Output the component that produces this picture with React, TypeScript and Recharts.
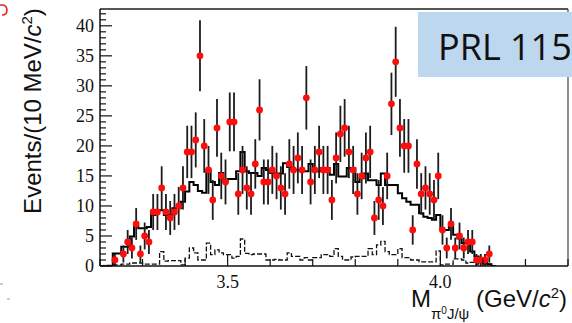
import { ComposedChart, Line, Scatter, ErrorBar, XAxis, YAxis, ReferenceLine } from "recharts";

// 10 MeV bins starting at 3.20 GeV
const binStart = 3.2;
const binWidth = 0.01;

// observed events per bin (null = empty bin, not drawn)
const counts: (number | null)[] = [
  null, null, null, 1, null, 2, 4, 3, 7, 2,
  5, 4, 9, 9, 13, 9, 8, 9, 10, 13,
  19, 19, 21, 35, 20, 16, 11, 23, 15, 14,
  24, 24, 12, 16, 13, 12, 17, 26, 14, 14,
  16, 15, 13, 12, 17, 16, 18, 16, 28, 14,
  16, 19, 16, 16, 11, 18, 22, 23, 19, 16,
  12, 15, 18, 19, 8, 11, 10, 15, 27, 34,
  23, 20, 20, 6, 17, 12, 13, 12, 11, 15,
  6, 3, 7, 3, 5, 3, 4, 4, 1, 1,
  1, 2, null,
];

// total fit (solid histogram)
const fitTotal: number[] = [
  0, 0, 0, 2.1, 2.1, 3.2, 3.2, 4.9, 6.6, 6.3,
  6.3, 6.5, 8.5, 9.3, 9.3, 8.5, 8.5, 9.6, 9.6, 10.7,
  12.4, 14, 13.5, 12.5, 12.2, 16, 14, 13.5, 15.5, 14,
  14.5, 14.5, 15.8, 19, 15.8, 15.5, 15.5, 15, 16.3, 16,
  15.5, 15.4, 15.4, 17.1, 16.5, 16, 16, 15.8, 15.8, 17,
  15.8, 15.8, 16.3, 16.3, 15.2, 17, 14.9, 14.9, 16.3, 16.3,
  14, 14.6, 15.4, 14.3, 14.3, 13.5, 15.4, 13.5, 13.5, 13.5,
  12.1, 11.3, 10.7, 10.2, 10.2, 8.8, 8.2, 8, 7.7, 8.5,
  6, 6, 6.8, 5.2, 4.6, 3.8, 3.8, 2.4, 1.6, 1.3,
  0.5, 0.3, 0,
];

// background component (dashed histogram)
const background: number[] = [
  0, 0.1, 0.1, 0.2, 0.2, 0.3, 0.3, 0.5, 0.5, 0.5,
  0.3, 0.3, 0.3, 0.3, 2.4, 0.8, 0.9, 0.9, 0.9, 0.2,
  1.3, 3.0, 2.2, 1.0, 1.0, 3.8, 1.9, 2.7, 2.2, 1.9,
  1.9, 1.3, 1.6, 4.5, 2.1, 1.9, 2.0, 2.0, 2.0, 1.0,
  1.0, 1.1, 1.0, 1.0, 2.2, 1.6, 1.6, 1.0, 1.4, 1.0,
  1.4, 1.4, 1.9, 1.9, 1.6, 2.9, 1.6, 1.0, 1.0, 1.5,
  1.6, 1.6, 1.6, 2.9, 1.9, 3.5, 4.1, 2.4, 1.9, 1.9,
  2.9, 1.4, 1.4, 1.0, 1.0, 0.7, 0.7, 0.7, 0.7, 2.5,
  0.2, 0.3, 0.3, 1.2, 1.2, 1.0, 0.5, 0.6, 0.3, 0.4,
  0.3, 0.3, 0,
];

const xTicks = [3.2, 3.3, 3.4, 3.5, 3.6, 3.7, 3.8, 3.9, 4.0, 4.1, 4.2, 4.3];
const xLabels = [3.5, 4.0];
const yMax = 42.8;
const yTicks = Array.from({ length: 43 }, (_, i) => i);

// bin low edges for the step histograms, closed with the last upper edge
const histRows = fitTotal.map((fit, i) => ({
  x: binStart + i * binWidth,
  fit,
  bg: background[i],
}));
histRows.push({ x: binStart + fitTotal.length * binWidth, fit: 0, bg: 0 });

// data points at bin centres, Poisson errors
const pointRows = counts.flatMap((n, i) =>
  n == null ? [] : [{ x: binStart + (i + 0.5) * binWidth, n, err: Math.sqrt(n) }]
);

const tickFont = "'Liberation Serif', 'Times New Roman', serif";
const titleFont = "'Liberation Sans', Arial, Helvetica, sans-serif";

// ticks point into the frame, ROOT style; x/y arrive on the axis line
function XTick(props: any) {
  const { x, y, payload } = props;
  const v = payload.value as number;
  const major = xLabels.some((l) => Math.abs(l - v) < 1e-6);
  return (
    <g>
      <line x1={x} x2={x} y1={y} y2={y - (major ? 12 : 7)} stroke="#111" strokeWidth={1.2} />
      {major && (
        <text x={x} y={y + 22} textAnchor="middle" fontFamily={tickFont} fontSize={18} fill="#111">
          {v.toFixed(1)}
        </text>
      )}
    </g>
  );
}

function YTick(props: any) {
  const { x, y, payload } = props;
  const v = payload.value as number;
  const major = v % 5 === 0;
  return (
    <g>
      <line x1={x} x2={x + (major ? 12 : 6)} y1={y} y2={y} stroke="#111" strokeWidth={1.2} />
      {major && (
        <text x={x - 6} y={y + 6} textAnchor="end" fontFamily={tickFont} fontSize={18} fill="#111">
          {v}
        </text>
      )}
    </g>
  );
}

const dot = (p: any) => <circle cx={p.cx} cy={p.cy} r={3.4} fill="#ff0d0d" />;

export default function App() {
  return (
    <div style={{ position: "absolute", left: 0, top: 0, width: 572, height: 323, background: "#fff" }}>
      <ComposedChart
        width={572}
        height={323}
        data={histRows}
        margin={{ top: 9, right: 4, bottom: 37, left: 60 }}
      >
        <XAxis
          type="number"
          dataKey="x"
          domain={[3.2, 4.3]}
          allowDataOverflow
          ticks={xTicks}
          interval={0}
          height={20}
          tickSize={0}
          tickMargin={0}
          tick={XTick}
          tickLine={false}
          axisLine={{ stroke: "#111", strokeWidth: 1.5 }}
        />
        <YAxis
          type="number"
          domain={[0, yMax]}
          allowDataOverflow
          ticks={yTicks}
          interval={0}
          width={40}
          tickSize={0}
          tickMargin={0}
          tick={YTick}
          tickLine={false}
          axisLine={{ stroke: "#111", strokeWidth: 1.5 }}
        />
        <ReferenceLine y={yMax} stroke="#555" strokeWidth={2} />
        <ReferenceLine x={4.3} stroke="#444" strokeWidth={1.2} />
        <Line
          type="stepAfter"
          dataKey="bg"
          stroke="#111"
          strokeWidth={1.3}
          strokeDasharray="5 2"
          dot={false}
          activeDot={false}
          isAnimationActive={false}
        />
        <Line
          type="stepAfter"
          dataKey="fit"
          stroke="#000"
          strokeWidth={2}
          dot={false}
          activeDot={false}
          isAnimationActive={false}
        />
        <Scatter data={pointRows} dataKey="n" shape={dot} isAnimationActive={false}>
          <ErrorBar dataKey="err" direction="y" width={0} stroke="#1c1c1c" strokeWidth={1.8} />
        </Scatter>
      </ComposedChart>

      <svg
        width={572}
        height={323}
        style={{ position: "absolute", left: 0, top: 0, pointerEvents: "none" }}
      >
        <path d="M0 5 L3 5 Q7 6 7 10 Q7 15 2 15" fill="none" stroke="#d22" strokeWidth={1.5} />
        <line x1={0} x2={3} y1={284} y2={284} stroke="#999" strokeWidth={1} />
        <line x1={7} x2={10} y1={299} y2={299} stroke="#999" strokeWidth={1} />

        <text
          transform="translate(41,111) rotate(-90)"
          textAnchor="middle"
          fontFamily={titleFont}
          fontSize={24}
          fill="#111"
        >
          Events/(10 MeV/<tspan fontStyle="italic">c</tspan>
          <tspan fontSize={15} dy={-9}>2</tspan>
          <tspan dy={9}>)</tspan>
        </text>

        <text x={567} y={307} textAnchor="end" fontFamily={titleFont} fontSize={24} fill="#111">
          M
          <tspan fontSize={15} dy={12}>π</tspan>
          <tspan fontSize={10} dy={-5}>0</tspan>
          <tspan fontSize={15} dy={5}>J/ψ</tspan>
          <tspan dy={-12}> (GeV/</tspan>
          <tspan fontStyle="italic">c</tspan>
          <tspan fontSize={15} dy={-9}>2</tspan>
          <tspan dy={9}>)</tspan>
        </text>

        <rect x={418} y={12} width={160} height={65} fill="#bdd7ee" />
        <text x={438} y={60} fontFamily="'Open Sans', 'Noto Sans', sans-serif" fontSize={36} fill="#111">
          PRL 115
        </text>
      </svg>
    </div>
  );
}
